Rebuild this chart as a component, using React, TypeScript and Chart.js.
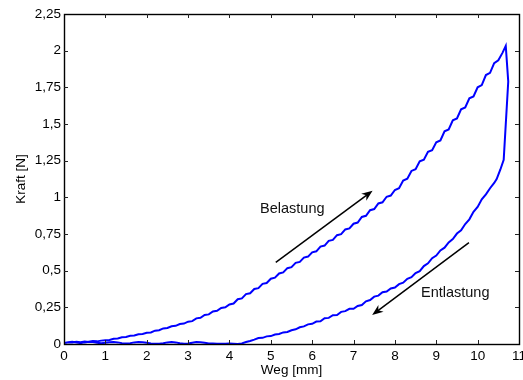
import React, { useEffect, useRef } from 'react';
import { Chart, registerables } from 'chart.js';

Chart.register(...registerables);
Chart.defaults.font.family = "'Liberation Sans', Arial, Helvetica, sans-serif";

// Loading branch (Belastung): [Weg mm, Kraft N]
const loading: [number, number][] = [
  [0, 0.006], [0.1, 0.012], [0.2, 0.010], [0.3, 0.015], [0.4, 0.012], [0.5, 0.017], [0.6, 0.014], [0.7, 0.020], [0.8, 0.018], [0.9, 0.023], [1.0, 0.026],
  [1.1, 0.028], [1.2, 0.036], [1.3, 0.038], [1.4, 0.046], [1.5, 0.048], [1.6, 0.056], [1.7, 0.058], [1.8, 0.066], [1.9, 0.068], [2.0, 0.076],
  [2.1, 0.079], [2.2, 0.091], [2.3, 0.094], [2.4, 0.106], [2.5, 0.109], [2.6, 0.121], [2.7, 0.124], [2.8, 0.136], [2.9, 0.139], [3.0, 0.152],
  [3.1, 0.156], [3.2, 0.175], [3.3, 0.179], [3.4, 0.198], [3.5, 0.202], [3.6, 0.222], [3.7, 0.226], [3.8, 0.246], [3.9, 0.250], [4.0, 0.270],
  [4.1, 0.276], [4.2, 0.305], [4.3, 0.311], [4.4, 0.340], [4.5, 0.346], [4.6, 0.375], [4.7, 0.381], [4.8, 0.410], [4.9, 0.416], [5.0, 0.445],
  [5.1, 0.452], [5.2, 0.481], [5.3, 0.488], [5.4, 0.517], [5.5, 0.524], [5.6, 0.553], [5.7, 0.560], [5.8, 0.589], [5.9, 0.596], [6.0, 0.625],
  [6.1, 0.632], [6.2, 0.664], [6.3, 0.671], [6.4, 0.703], [6.5, 0.710], [6.6, 0.742], [6.7, 0.749], [6.8, 0.781], [6.9, 0.788], [7.0, 0.820],
  [7.1, 0.828], [7.2, 0.866], [7.3, 0.874], [7.4, 0.912], [7.5, 0.920], [7.6, 0.958], [7.7, 0.966], [7.8, 1.004], [7.9, 1.012], [8.0, 1.050],
  [8.1, 1.062], [8.2, 1.115], [8.3, 1.127], [8.4, 1.180], [8.5, 1.192], [8.6, 1.245], [8.7, 1.257], [8.8, 1.310], [8.9, 1.322], [9.0, 1.375],
  [9.1, 1.388], [9.2, 1.450], [9.3, 1.463], [9.4, 1.525], [9.5, 1.538], [9.6, 1.600], [9.7, 1.613], [9.8, 1.675], [9.9, 1.688], [10.0, 1.750],
  [10.1, 1.765], [10.2, 1.834], [10.3, 1.849], [10.4, 1.915], [10.5, 1.935], [10.6, 1.985], [10.68, 2.033],
];

// Drop after peak and unloading branch (Entlastung)
const unloading: [number, number][] = [
  [10.74, 1.79], [10.63, 1.256], [10.55, 1.19], [10.46, 1.125], [10.4, 1.098], [10.3, 1.062], [10.2, 1.02], [10.1, 0.986], [10.0, 0.935],
  [9.9, 0.901], [9.8, 0.85], [9.7, 0.818], [9.6, 0.775], [9.5, 0.753], [9.4, 0.715], [9.3, 0.693], [9.2, 0.657], [9.1, 0.638], [9.0, 0.603],
  [8.9, 0.585], [8.8, 0.550], [8.7, 0.531], [8.6, 0.497], [8.5, 0.483], [8.4, 0.455], [8.3, 0.444], [8.2, 0.418], [8.1, 0.408], [8.0, 0.385],
  [7.9, 0.379], [7.8, 0.358], [7.7, 0.353], [7.6, 0.330], [7.5, 0.323], [7.4, 0.300], [7.3, 0.291], [7.2, 0.266], [7.1, 0.259], [7.0, 0.240],
  [6.9, 0.240], [6.8, 0.224], [6.7, 0.219], [6.6, 0.198], [6.5, 0.196], [6.4, 0.178], [6.3, 0.176], [6.2, 0.155], [6.1, 0.153], [6.0, 0.138],
  [5.9, 0.134], [5.8, 0.120], [5.7, 0.114], [5.6, 0.100], [5.5, 0.094], [5.4, 0.082], [5.3, 0.079], [5.2, 0.068], [5.1, 0.065], [5.0, 0.054],
  [4.9, 0.052], [4.8, 0.042], [4.7, 0.041], [4.6, 0.030], [4.5, 0.020], [4.4, 0.014], [4.3, 0.004], [4.2, 0.000], [4.1, 0.002], [4.0, 0.004],
  [3.9, 0.002], [3.8, 0.001], [3.7, 0.002], [3.6, 0.003], [3.5, 0.004], [3.4, 0.009], [3.3, 0.012], [3.2, 0.013], [3.1, 0.008], [3.0, 0.003],
  [2.9, 0.001], [2.8, 0.005], [2.7, 0.011], [2.6, 0.013], [2.5, 0.011], [2.4, 0.005], [2.3, 0.002], [2.2, 0.001], [2.1, 0.004], [2.0, 0.009],
  [1.9, 0.012], [1.8, 0.013], [1.7, 0.011], [1.6, 0.006], [1.5, 0.003], [1.4, 0.006], [1.3, 0.011], [1.2, 0.014], [1.1, 0.012], [1.0, 0.008],
  [0.9, 0.005], [0.8, 0.008], [0.7, 0.013], [0.6, 0.015], [0.5, 0.011], [0.4, 0.006], [0.3, 0.010], [0.2, 0.015], [0.1, 0.012], [0.05, 0.008],
];

const labels = [
  { text: 'Belastung', x: 4.74, y: 0.893 },
  { text: 'Entlastung', x: 8.63, y: 0.318 },
];

const arrows = [
  { x1: 5.12, y1: 0.557, x2: 7.46, y2: 1.045 },
  { x1: 9.79, y1: 0.691, x2: 7.45, y2: 0.198 },
];

const fmt = (v: number) => String(v).replace('.', ',');

function drawArrow(ctx: CanvasRenderingContext2D, x1: number, y1: number, x2: number, y2: number) {
  const a = Math.atan2(y2 - y1, x2 - x1);
  const c = Math.cos(a), s = Math.sin(a);
  const len = 11, half = 4.3;
  ctx.beginPath();
  ctx.moveTo(x1, y1);
  ctx.lineTo(x2 - 6 * c, y2 - 6 * s);
  ctx.stroke();
  const bx = x2 - len * c, by = y2 - len * s;
  const nx = -s, ny = c;
  ctx.beginPath();
  ctx.moveTo(x2, y2);
  ctx.lineTo(bx + half * nx, by + half * ny);
  ctx.lineTo(x2 - 0.7 * len * c, y2 - 0.7 * len * s);
  ctx.lineTo(bx - half * nx, by - half * ny);
  ctx.closePath();
  ctx.fill();
}

const framePlugin = {
  id: 'matlabFrame',
  afterDraw(chart: any) {
    const { ctx, chartArea } = chart;
    const { left, right, top, bottom } = chartArea;
    const xs = chart.scales.x;
    const ys = chart.scales.y;
    ctx.save();
    ctx.strokeStyle = '#000';
    ctx.lineWidth = 1.4;
    ctx.strokeRect(left + 0.5, top + 0.5, right - left, bottom - top);
    ctx.lineWidth = 1;
    ctx.strokeStyle = '#222';
    const tl = 4;
    ctx.beginPath();
    xs.ticks.forEach((t: any) => {
      if (t.value <= xs.min || t.value >= xs.max) return;
      const px = Math.round(xs.getPixelForValue(t.value)) + 0.5;
      ctx.moveTo(px, bottom);
      ctx.lineTo(px, bottom - tl);
      ctx.moveTo(px, top);
      ctx.lineTo(px, top + tl);
    });
    ys.ticks.forEach((t: any) => {
      if (t.value <= ys.min || t.value >= ys.max) return;
      const py = Math.round(ys.getPixelForValue(t.value)) + 0.5;
      ctx.moveTo(left, py);
      ctx.lineTo(left + tl, py);
      ctx.moveTo(right, py);
      ctx.lineTo(right - tl, py);
    });
    ctx.stroke();

    ctx.strokeStyle = '#000';
    ctx.fillStyle = '#000';
    ctx.lineWidth = 1.5;
    arrows.forEach((ar) => {
      drawArrow(ctx, xs.getPixelForValue(ar.x1), ys.getPixelForValue(ar.y1), xs.getPixelForValue(ar.x2), ys.getPixelForValue(ar.y2));
    });

    ctx.font = "14.5px 'Liberation Sans', Arial, sans-serif";
    ctx.textAlign = 'left';
    ctx.textBaseline = 'alphabetic';
    ctx.fillStyle = '#111';
    labels.forEach((l) => {
      ctx.fillText(l.text, xs.getPixelForValue(l.x), ys.getPixelForValue(l.y));
    });
    ctx.restore();
  },
};

export default function App() {
  const ref = useRef<HTMLCanvasElement | null>(null);
  useEffect(() => {
    if (!ref.current) return;
    const path = [...loading, ...unloading].map(([x, y]) => ({ x, y }));
    const chart = new Chart(ref.current, {
      type: 'scatter',
      data: {
        datasets: [
          {
            data: path,
            showLine: true,
            borderColor: '#0000ff',
            backgroundColor: '#0000ff',
            borderWidth: 2,
            pointRadius: 0,
            tension: 0,
            fill: false,
          },
        ],
      },
      options: {
        animation: false,
        responsive: false,
        events: [],
        layout: { padding: { top: 14, right: 21, bottom: 0, left: 0 } },
        plugins: { legend: { display: false }, tooltip: { enabled: false } },
        scales: {
          x: {
            type: 'linear',
            min: 0,
            max: 11,
            afterFit: (s: any) => { s.height = 36; },
            grid: { display: false, drawTicks: false },
            border: { display: false },
            ticks: { stepSize: 1, padding: 4, color: '#000', font: { size: 13.5 }, maxRotation: 0, autoSkip: false, callback: (v: any) => fmt(Number(v)) },
            title: { display: true, text: 'Weg [mm]', color: '#000', font: { size: 13.5 }, padding: { top: 0, bottom: 1.5 } },
          },
          y: {
            type: 'linear',
            min: 0,
            max: 2.25,
            afterFit: (s: any) => { s.width = 64; },
            grid: { display: false, drawTicks: false },
            border: { display: false },
            ticks: { stepSize: 0.25, padding: 3, color: '#000', font: { size: 13.5 }, autoSkip: false, callback: (v: any) => fmt(Number(v)) },
            title: { display: true, text: 'Kraft [N]', color: '#000', font: { size: 13.5 }, padding: { top: 13.5, bottom: 0 } },
          },
        },
      },
      plugins: [framePlugin],
    });
    return () => chart.destroy();
  }, []);
  return (
    <div style={{ position: 'fixed', left: 0, top: 0, width: 523, height: 380, overflow: 'hidden', background: '#fff' }}>
      <canvas ref={ref} width={540} height={380} style={{ display: 'block' }} />
    </div>
  );
}
